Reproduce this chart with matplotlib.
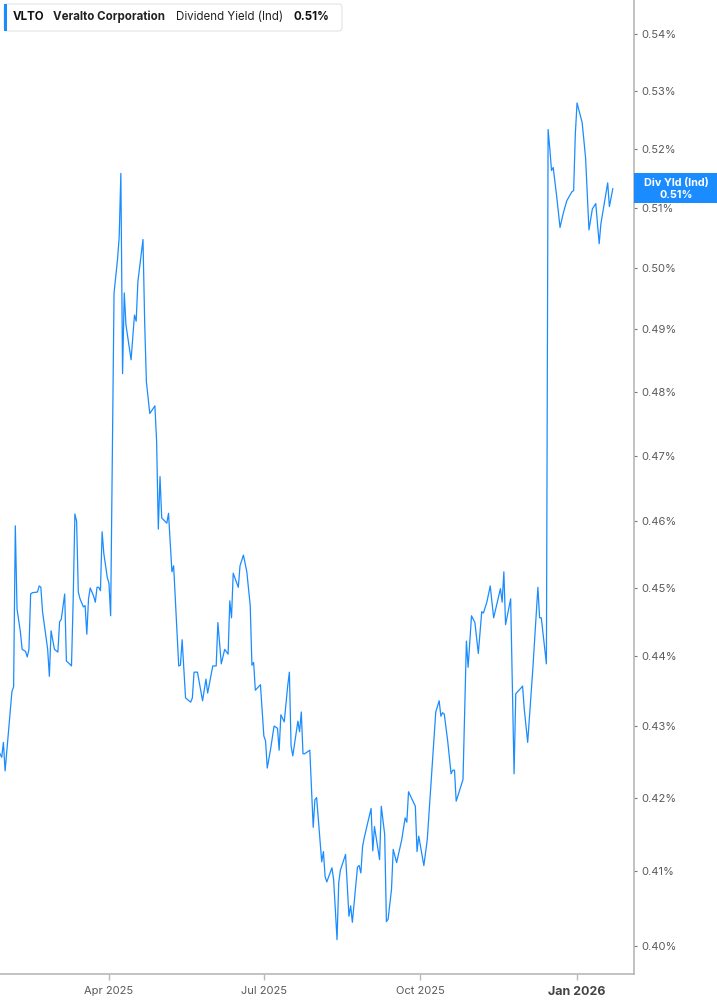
import matplotlib
matplotlib.use('Agg')
import matplotlib.pyplot as plt
import matplotlib.dates as mdates
from matplotlib.ticker import FixedLocator, NullLocator, FuncFormatter
from matplotlib.patches import FancyBboxPatch, Rectangle
import pandas as pd

plt.rcParams['font.family'] = ['Inter', 'DejaVu Sans']

ticker = 'VLTO'
company = 'Veralto Corporation'
metric = 'Dividend Yield (Ind)'
short_metric = 'Div Yld (Ind)'

dates = [
    '2025-01-27', '2025-01-28', '2025-01-29', '2025-01-30', '2025-02-01', '2025-02-03', '2025-02-04', '2025-02-05',
    '2025-02-06', '2025-02-08', '2025-02-09', '2025-02-11', '2025-02-12', '2025-02-13', '2025-02-14', '2025-02-15',
    '2025-02-18', '2025-02-19', '2025-02-20', '2025-02-21', '2025-02-24', '2025-02-25', '2025-02-26', '2025-02-28',
    '2025-03-02', '2025-03-03', '2025-03-04', '2025-03-06', '2025-03-07', '2025-03-08', '2025-03-10', '2025-03-11',
    '2025-03-12', '2025-03-13', '2025-03-14', '2025-03-15', '2025-03-17', '2025-03-18', '2025-03-19', '2025-03-20',
    '2025-03-21', '2025-03-23', '2025-03-24', '2025-03-25', '2025-03-26', '2025-03-27', '2025-03-28', '2025-03-29',
    '2025-03-31', '2025-04-01', '2025-04-02', '2025-04-04', '2025-04-06', '2025-04-07', '2025-04-08', '2025-04-09',
    '2025-04-10', '2025-04-11', '2025-04-14', '2025-04-16', '2025-04-17', '2025-04-18', '2025-04-21', '2025-04-22',
    '2025-04-23', '2025-04-25', '2025-04-28', '2025-04-29', '2025-04-30', '2025-05-01', '2025-05-02', '2025-05-05',
    '2025-05-06', '2025-05-08', '2025-05-09', '2025-05-12', '2025-05-13', '2025-05-14', '2025-05-16', '2025-05-19',
    '2025-05-20', '2025-05-21', '2025-05-23', '2025-05-24', '2025-05-26', '2025-05-28', '2025-05-29', '2025-06-01',
    '2025-06-03', '2025-06-04', '2025-06-06', '2025-06-08', '2025-06-10', '2025-06-11', '2025-06-12', '2025-06-13',
    '2025-06-16', '2025-06-17', '2025-06-19', '2025-06-21', '2025-06-23', '2025-06-24', '2025-06-25', '2025-06-26',
    '2025-06-29', '2025-07-01', '2025-07-02', '2025-07-03', '2025-07-05', '2025-07-07', '2025-07-09', '2025-07-10',
    '2025-07-11', '2025-07-13', '2025-07-15', '2025-07-16', '2025-07-17', '2025-07-18', '2025-07-21', '2025-07-22',
    '2025-07-23', '2025-07-24', '2025-07-25', '2025-07-28', '2025-07-30', '2025-07-31', '2025-08-01', '2025-08-04',
    '2025-08-05', '2025-08-06', '2025-08-07', '2025-08-10', '2025-08-11', '2025-08-13', '2025-08-14', '2025-08-15',
    '2025-08-18', '2025-08-20', '2025-08-21', '2025-08-22', '2025-08-25', '2025-08-26', '2025-08-27', '2025-08-28',
    '2025-08-29', '2025-09-02', '2025-09-03', '2025-09-04', '2025-09-07', '2025-09-08', '2025-09-10', '2025-09-11',
    '2025-09-12', '2025-09-14', '2025-09-15', '2025-09-17', '2025-09-20', '2025-09-22', '2025-09-23', '2025-09-24',
    '2025-09-28', '2025-09-29', '2025-09-30', '2025-10-03', '2025-10-05', '2025-10-07', '2025-10-10', '2025-10-12',
    '2025-10-13', '2025-10-14', '2025-10-15', '2025-10-17', '2025-10-19', '2025-10-20', '2025-10-21', '2025-10-22',
    '2025-10-26', '2025-10-28', '2025-10-29', '2025-10-31', '2025-11-02', '2025-11-04', '2025-11-06', '2025-11-07',
    '2025-11-09', '2025-11-11', '2025-11-13', '2025-11-17', '2025-11-18', '2025-11-19', '2025-11-20', '2025-11-23',
    '2025-11-25', '2025-11-26', '2025-11-29', '2025-11-30', '2025-12-01', '2025-12-03', '2025-12-06', '2025-12-09',
    '2025-12-10', '2025-12-11', '2025-12-14', '2025-12-15', '2025-12-16', '2025-12-17', '2025-12-18', '2025-12-20',
    '2025-12-22', '2025-12-24', '2025-12-26', '2025-12-29', '2025-12-30', '2025-12-31', '2026-01-01', '2026-01-04',
    '2026-01-06', '2026-01-08', '2026-01-10', '2026-01-12', '2026-01-14', '2026-01-15', '2026-01-19', '2026-01-20',
    '2026-01-22',
]

div_yield = [
    0.4261, 0.4256, 0.4277, 0.4237, 0.4292, 0.4349, 0.4356, 0.4593,
    0.4469, 0.4435, 0.4410, 0.4407, 0.4399, 0.4410, 0.4491, 0.4493,
    0.4494, 0.4503, 0.4501, 0.4465, 0.4410, 0.4371, 0.4437, 0.4410,
    0.4406, 0.4450, 0.4454, 0.4491, 0.4393, 0.4391, 0.4386, 0.4484,
    0.4611, 0.4600, 0.4494, 0.4484, 0.4472, 0.4474, 0.4432, 0.4484,
    0.4500, 0.4488, 0.4479, 0.4501, 0.4501, 0.4496, 0.4584, 0.4551,
    0.4516, 0.4507, 0.4459, 0.4959, 0.5013, 0.5050, 0.5158, 0.4829,
    0.4959, 0.4907, 0.4851, 0.4923, 0.4913, 0.4977, 0.5047, 0.4910,
    0.4816, 0.4766, 0.4778, 0.4723, 0.4588, 0.4668, 0.4605, 0.4597,
    0.4612, 0.4524, 0.4533, 0.4386, 0.4387, 0.4424, 0.4340, 0.4334,
    0.4340, 0.4377, 0.4377, 0.4363, 0.4336, 0.4367, 0.4347, 0.4386,
    0.4386, 0.4449, 0.4389, 0.4410, 0.4403, 0.4481, 0.4456, 0.4522,
    0.4501, 0.4533, 0.4549, 0.4524, 0.4474, 0.4387, 0.4391, 0.4351,
    0.4359, 0.4286, 0.4279, 0.4241, 0.4268, 0.4300, 0.4297, 0.4266,
    0.4316, 0.4306, 0.4357, 0.4377, 0.4272, 0.4258, 0.4307, 0.4292,
    0.4320, 0.4261, 0.4261, 0.4266, 0.4159, 0.4197, 0.4200, 0.4112,
    0.4126, 0.4092, 0.4085, 0.4104, 0.4088, 0.4008, 0.4084, 0.4101,
    0.4122, 0.4039, 0.4053, 0.4031, 0.4105, 0.4107, 0.4097, 0.4133,
    0.4145, 0.4185, 0.4127, 0.4160, 0.4115, 0.4188, 0.4149, 0.4032,
    0.4035, 0.4075, 0.4129, 0.4111, 0.4142, 0.4172, 0.4166, 0.4208,
    0.4188, 0.4126, 0.4147, 0.4107, 0.4142, 0.4213, 0.4320, 0.4336,
    0.4314, 0.4319, 0.4317, 0.4279, 0.4233, 0.4238, 0.4238, 0.4195,
    0.4225, 0.4422, 0.4384, 0.4459, 0.4449, 0.4404, 0.4465, 0.4463,
    0.4479, 0.4503, 0.4456, 0.4499, 0.4479, 0.4524, 0.4446, 0.4484,
    0.4233, 0.4346, 0.4354, 0.4357, 0.4324, 0.4277, 0.4381, 0.4501,
    0.4456, 0.4456, 0.4389, 0.5233, 0.5200, 0.5163, 0.5168, 0.5120,
    0.5067, 0.5092, 0.5112, 0.5127, 0.5129, 0.5226, 0.5279, 0.5245,
    0.5185, 0.5063, 0.5098, 0.5107, 0.5040, 0.5073, 0.5142, 0.5102,
    0.5132,
]

y_ticks = [0.40, 0.41, 0.42, 0.43, 0.44, 0.45, 0.46, 0.47, 0.48, 0.49, 0.50, 0.51, 0.52, 0.53, 0.54]
x_ticks = ['2025-04-01', '2025-07-01', '2025-10-01', '2026-01-01']
x_labels = ['Apr 2025', 'Jul 2025', 'Oct 2025', 'Jan 2026']

line_blue = '#1a8cff'
axis_grey = '#b8b8b8'
label_grey = '#5a5a5a'

W, H = 717, 1005
fig = plt.figure(figsize=(W / 100, H / 100), dpi=100)
ax = fig.add_axes([0, 31 / H, 634 / W, 1 - 31 / H])

x = pd.to_datetime(dates)
ax.plot(x, div_yield, color=line_blue, lw=0.9)

ax.set_yscale('log')
ax.set_ylim(0.3963, 0.5461)
ax.set_xlim(pd.Timestamp('2025-01-27'), pd.Timestamp('2026-02-03 11:00'))

ax.yaxis.set_major_locator(FixedLocator(y_ticks))
ax.yaxis.set_minor_locator(NullLocator())
ax.yaxis.set_major_formatter(FuncFormatter(lambda v, p: '%.2f%%' % v))
ax.yaxis.tick_right()
ax.tick_params(axis='y', length=2.5, width=0.8, color='#777777', labelsize=8,
               labelcolor=label_grey, pad=3)

xt = pd.to_datetime(x_ticks)
ax.set_xticks(xt)
ax.set_xticklabels(x_labels)
ax.tick_params(axis='x', length=4, width=1, color=axis_grey, labelsize=8,
               labelcolor=label_grey, pad=4.5)
last_lbl = ax.get_xticklabels()[-1]
last_lbl.set_fontweight('bold')
last_lbl.set_fontsize(9)
last_lbl.set_color('#444444')

for s in ['top', 'left']:
    ax.spines[s].set_visible(False)
for s in ['right', 'bottom']:
    ax.spines[s].set_color(axis_grey)
    ax.spines[s].set_linewidth(1.2)

# header box
def fx(px):
    return px / W

def fy(py):
    return 1 - py / H

box = FancyBboxPatch((fx(4), fy(31)), fx(342) - fx(4), fy(4) - fy(31),
                     boxstyle='round,pad=0,rounding_size=0.004', transform=fig.transFigure,
                     facecolor='white', edgecolor='#e3e3e3', lw=0.8, zorder=5)
fig.patches.append(box)
fig.patches.append(Rectangle((fx(4), fy(31)), fx(3), fy(4) - fy(31), transform=fig.transFigure,
                             facecolor=line_blue, edgecolor='none', zorder=6))

last_val = '%.2f%%' % div_yield[-1]
hy = fy(17)
fig.text(fx(13), hy, ticker, fontsize=8.3, fontweight='bold', color='#111111', va='center', zorder=7)
fig.text(fx(53), hy, company, fontsize=8.3, fontweight='bold', color='#222222', va='center', zorder=7)
fig.text(fx(176), hy, metric, fontsize=8.3, color='#222222', va='center', zorder=7)
fig.text(fx(293), hy, last_val, fontsize=8.3, fontweight='bold', color='#111111', va='center', zorder=7)

# last value tag on right axis
fig.patches.append(Rectangle((fx(634), fy(203)), fx(717) - fx(634), fy(173) - fy(203),
                             transform=fig.transFigure, facecolor=line_blue, edgecolor='none', zorder=6))
fig.text(fx(676), fy(183), short_metric, fontsize=7.8, fontweight='bold', color='white',
         ha='center', va='center', zorder=7)
fig.text(fx(676), fy(194.5), last_val, fontsize=7.8, fontweight='bold', color='white',
         ha='center', va='center', zorder=7)

fig.savefig('out.png', dpi=100, facecolor='white')
